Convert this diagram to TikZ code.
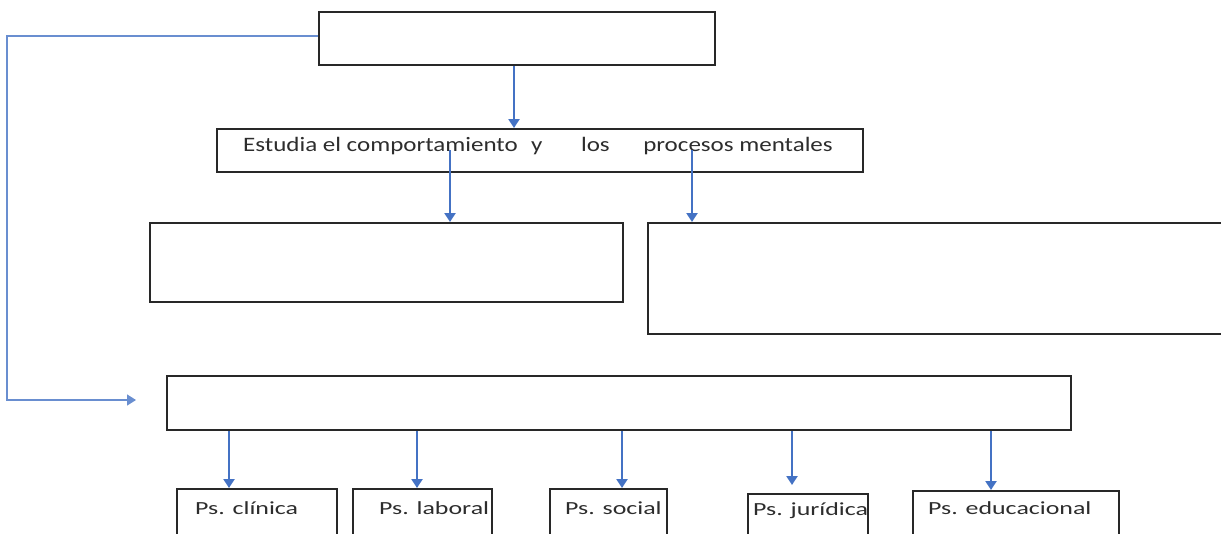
\documentclass[tikz,border=0pt]{standalone}
\usepackage{fontspec}
\setmainfont{Carlito}
\usetikzlibrary{arrows.meta}
\definecolor{arrblue}{RGB}{68,114,196}
\definecolor{boxgray}{RGB}{40,40,40}
\definecolor{txtgray}{RGB}{45,45,45}
\newcommand\stretchtxt[2]{\scalebox{#1}[1]{#2}}
\tikzset{
  box/.style={draw=boxgray, line width=2.2pt, fill=white, inner sep=0pt, anchor=north west},
  arr/.style={draw=arrblue, line width=2.2pt, -{Triangle[length=9pt,width=11pt]}},
  thinarr/.style={draw=arrblue!80, line width=1.3pt, -{Triangle[length=9pt,width=11pt]}},
  midtxt/.style={text=txtgray, inner sep=0pt, anchor=base west, font=\fontsize{20.5}{22}\selectfont},
  lbl/.style={text=txtgray, inner sep=0pt, anchor=base west, font=\fontsize{18.5}{20}\selectfont},
}
\begin{document}
\begin{tikzpicture}[x=1pt,y=-1pt]
\useasboundingbox (0,0) rectangle (1221,533);
\clip (0,0) rectangle (1221,533);
\fill[white] (0,0) rectangle (1221,533);
% boxes
\node[box, minimum width=396pt, minimum height=53pt] (top) at (318,11) {};
\node[box, minimum width=646pt, minimum height=43pt] (mid) at (216,128) {};
\node[box, minimum width=473pt, minimum height=79pt] (left) at (149,222) {};
\node[box, minimum width=600pt, minimum height=111pt] (right) at (647,222) {};
\node[box, minimum width=904pt, minimum height=54pt] (big) at (166,375) {};
\node[box, minimum width=160pt, minimum height=80pt] (b1) at (176,488) {};
\node[box, minimum width=139pt, minimum height=80pt] (b2) at (352,488) {};
\node[box, minimum width=117pt, minimum height=80pt] (b3) at (549,488) {};
\node[box, minimum width=120pt, minimum height=80pt] (b4) at (747,493) {};
\node[box, minimum width=206pt, minimum height=80pt] (b5) at (912,490) {};
% texts
\node[midtxt] (mt) at (243,151) {\stretchtxt{1.22}{\hbox to 488pt{\rlap{Estudia el comportamiento}\hskip236pt\rlap{y}\hskip41pt\rlap{los}\hskip51pt procesos mentales\hss}}};
\node[lbl] (t1) at (195,514) {\stretchtxt{1.4}{Ps. clínica}};
\node[lbl] (t2) at (379,514) {\stretchtxt{1.4}{Ps. laboral}};
\node[lbl] (t3) at (565,514) {\stretchtxt{1.4}{Ps. social}};
\node[lbl] (t4) at (753,515) {\stretchtxt{1.4}{Ps. jurídica}};
\node[lbl] (t5) at (928,514) {\stretchtxt{1.4}{Ps. educacional}};
% connector coordinates
\coordinate (m1) at (450,150);
\coordinate (m2) at (692,150);
\coordinate (lc) at (7,36);
\coordinate (lb) at (7,400);
\coordinate (le) at (136,400);
\coordinate (j4) at (792,485);
% connectors
\draw[arr] (top.south -| 514,0) -- (mid.north -| 514,0);
\draw[arr] (m1) -- (left.north -| m1);
\draw[arr] (m2) -- (right.north -| m2);
\draw[thinarr] (top.west |- lc) -- (lc) -- (lb) -- (le);
\draw[arr] (big.south -| 229,0) -- (b1.north -| 229,0);
\draw[arr] (big.south -| 417,0) -- (b2.north -| 417,0);
\draw[arr] (big.south -| 622,0) -- (b3.north -| 622,0);
\draw[arr] (big.south -| j4) -- (j4);
\draw[arr] (big.south -| 991,0) -- (b5.north -| 991,0);
\end{tikzpicture}
\end{document}
